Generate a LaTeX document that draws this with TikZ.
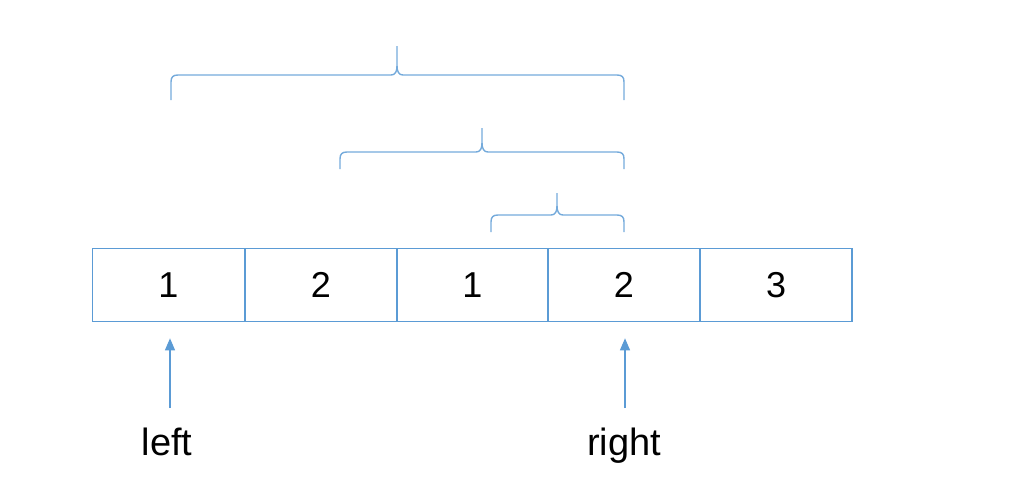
\documentclass[tikz,border=0pt]{standalone}
\usepackage{fontspec}
\setmainfont{Liberation Sans}
\usetikzlibrary{arrows.meta}
\definecolor{bl}{HTML}{5B9BD5}
\newcommand\mybrace[6]{%
  \draw[brace] (#1,#4) -- (#1,#5+7) .. controls (#1,#5+2) and (#1+2,#5) .. (#1+7,#5)
     -- (#3-6,#5) .. controls (#3-2,#5) and (#3,#5-3) .. (#3,#5-9) -- (#3,#6);
  \draw[brace] (#3,#5-9) .. controls (#3,#5-3) and (#3+2,#5) .. (#3+6,#5)
     -- (#2-7,#5) .. controls (#2-2,#5) and (#2,#5+2) .. (#2,#5+7) -- (#2,#4);}
\begin{document}
\begin{tikzpicture}[x=1pt,y=-1pt,
  cell/.style={draw=bl,line width=1.6pt,minimum width=152pt,minimum height=73pt,inner sep=0pt,font=\fontsize{36}{42}\selectfont},
  lab/.style={font=\fontsize{38}{44}\selectfont,anchor=base,inner sep=0pt},
  brace/.style={draw=bl!85,line width=1.4pt},
  arr/.style={draw=bl,line width=1.2pt,-{Triangle[width=10pt,length=12pt]},shorten >=16pt}]
\useasboundingbox (0,0) rectangle (1024,501);
\node[cell] (c1) at (168.5,285) {1};
\node[cell] (c2) at (321,285) {2};
\node[cell] (c3) at (472.5,285) {1};
\node[cell] (c4) at (624,285) {2};
\node[cell] (c5) at (776,285) {3};
\mybrace{171}{624}{397}{100}{75}{46}
\mybrace{340}{624}{482}{169}{152}{128}
\mybrace{491}{624}{557}{232}{215}{193}
\node[lab] (lleft) at (167,455) {left};
\node[lab] (lright) at (624,455) {right};
\coordinate (la) at (170,408);
\coordinate (ra) at (625,408);
\draw[arr] (la) -- (c1.south -| la);
\draw[arr] (ra) -- (c4.south -| ra);
\end{tikzpicture}
\end{document}
